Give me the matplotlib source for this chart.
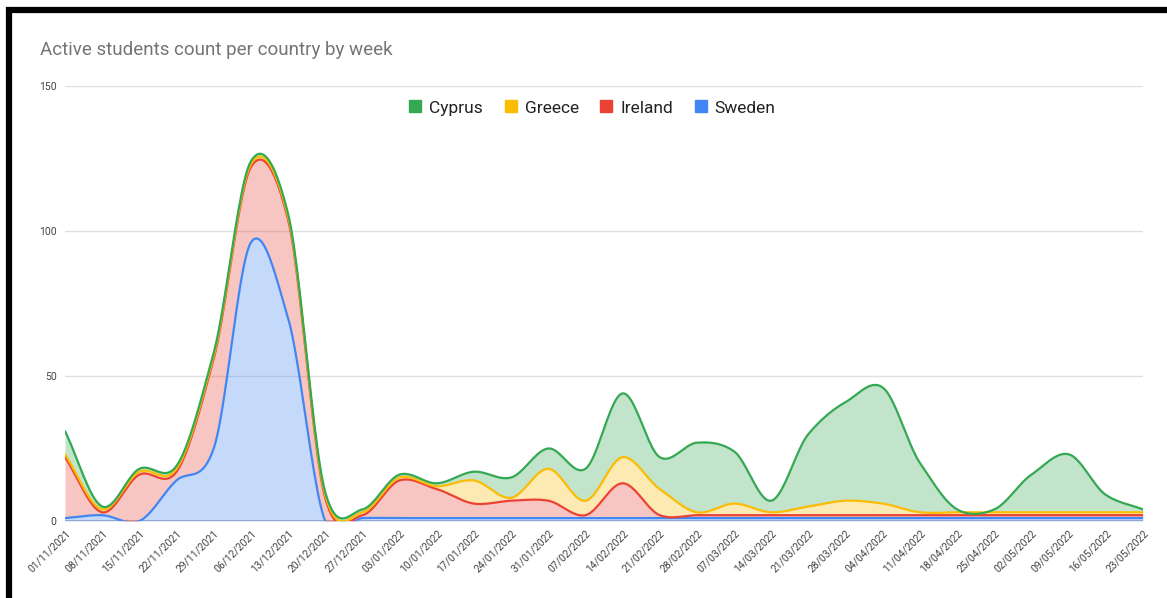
import matplotlib
matplotlib.use("Agg")
import matplotlib.pyplot as plt
import numpy as np
from matplotlib.lines import Line2D

weeks = [
    "01/11/2021", "08/11/2021", "15/11/2021", "22/11/2021", "29/11/2021",
    "06/12/2021", "13/12/2021", "20/12/2021", "27/12/2021", "03/01/2022",
    "10/01/2022", "17/01/2022", "24/01/2022", "31/01/2022", "07/02/2022",
    "14/02/2022", "21/02/2022", "28/02/2022", "07/03/2022", "14/03/2022",
    "21/03/2022", "28/03/2022", "04/04/2022", "11/04/2022", "18/04/2022",
    "25/04/2022", "02/05/2022", "09/05/2022", "16/05/2022", "23/05/2022",
]

# weekly active students, stacked bottom -> top: Sweden, Ireland, Greece, Cyprus
sweden = [1, 2, 0, 14, 25, 96, 70, 0, 1, 1,
          1, 1, 1, 1, 1, 1, 1, 1, 1, 1,
          1, 1, 1, 1, 1, 1, 1, 1, 1, 1]
ireland = [21, 1, 16, 3, 31, 26, 34, 8, 1, 13,
           10, 5, 6, 6, 1, 12, 1, 1, 1, 1,
           1, 1, 1, 1, 1, 1, 1, 1, 1, 1]
greece = [1, 1, 1, 1, 1, 1, 1, 1, 1, 1,
          1, 8, 1, 11, 5, 9, 9, 1, 4, 1,
          3, 5, 4, 1, 1, 1, 1, 1, 1, 1]
cyprus = [8, 1, 1, 1, 1, 1, 1, 1, 1, 1,
          1, 3, 7, 7, 11, 22, 11, 24, 18, 4,
          25, 34, 40, 17, 1, 1, 13, 20, 6, 1]

series = [
    ("Sweden", sweden, "#4285F4"),
    ("Ireland", ireland, "#EA4335"),
    ("Greece", greece, "#FBBC04"),
    ("Cyprus", cyprus, "#34A853"),
]


def smooth(y, steps=24, tension=0.9):
    """Cardinal curve through the weekly points."""
    y = np.asarray(y, dtype=float)
    n = len(y)
    m = np.empty(n)
    m[1:-1] = tension * (y[2:] - y[:-2]) / 2.0
    m[0] = y[1] - y[0]
    m[-1] = y[-1] - y[-2]
    xs, ys = [], []
    t = np.linspace(0, 1, steps, endpoint=False)
    h00 = 2 * t**3 - 3 * t**2 + 1
    h10 = t**3 - 2 * t**2 + t
    h01 = -2 * t**3 + 3 * t**2
    h11 = t**3 - t**2
    for i in range(n - 1):
        xs.append(i + t)
        ys.append(h00 * y[i] + h10 * m[i] + h01 * y[i + 1] + h11 * m[i + 1])
    xs.append([n - 1])
    ys.append([y[-1]])
    return np.concatenate(xs), np.concatenate(ys)


plt.rcParams["font.family"] = ["Roboto", "DejaVu Sans"]

fig = plt.figure(figsize=(11.67, 5.98), dpi=100)
ax = fig.add_axes([65 / 1167, 1 - 521 / 598, (1143 - 65) / 1167, (521 - 86) / 598])

x = np.arange(len(weeks))
cum = np.zeros(len(weeks))
prev_curve = None
curves = []
for name, vals, color in series:
    cum = cum + np.asarray(vals, dtype=float)
    sx, sy = smooth(cum)
    base = np.zeros_like(sy) if prev_curve is None else prev_curve
    ax.fill_between(sx, base, sy, color=color, alpha=0.3, lw=0, zorder=2)
    curves.append((sx, sy, color))
    prev_curve = sy

for sx, sy, color in curves:
    ax.plot(sx, sy, color=color, lw=1.6, zorder=3, solid_capstyle="round")

ax.set_xlim(0, len(weeks) - 1)
ax.set_ylim(0, 150)
ax.set_yticks([0, 50, 100, 150])
ax.grid(axis="y", color="#e0e0e0", lw=1.0, zorder=0)
ax.axhline(0, color="#9e9e9e", lw=1.2, zorder=1)
for s in ax.spines.values():
    s.set_visible(False)
ax.tick_params(axis="both", length=0, colors="#444444", labelsize=7.5)
ax.tick_params(axis="y", pad=6)
ax.set_xticks(x)
ax.set_xticklabels(weeks, rotation=45, ha="right", va="top", rotation_mode="anchor")
ax.tick_params(axis="x", pad=5)

fig.text(40 / 1167, 1 - 50 / 598, "Active students count per country by week",
         color="#757575", fontsize=13.5, va="center", ha="left")

handles = [Line2D([], [], ls="none", marker="s", markersize=8, color=c)
           for _, _, c in reversed(series)]
labels = [n for n, _, _ in reversed(series)]
fig.legend(handles, labels, loc="center", bbox_to_anchor=(592 / 1167, 1 - 108 / 598),
           ncol=4, frameon=False, fontsize=12.5, handlelength=0.8, handletextpad=0.4,
           columnspacing=1.2, labelcolor="#222222")

# black frame along the left and top edges
fig.add_artist(Line2D([9 / 1167, 9 / 1167], [0, 1 - 7 / 598], color="black", lw=4.5,
                      transform=fig.transFigure, solid_capstyle="butt"))
fig.add_artist(Line2D([6 / 1167, 1], [1 - 10 / 598, 1 - 10 / 598], color="black", lw=4.5,
                      transform=fig.transFigure, solid_capstyle="butt"))

fig.savefig("out.png", dpi=100)
